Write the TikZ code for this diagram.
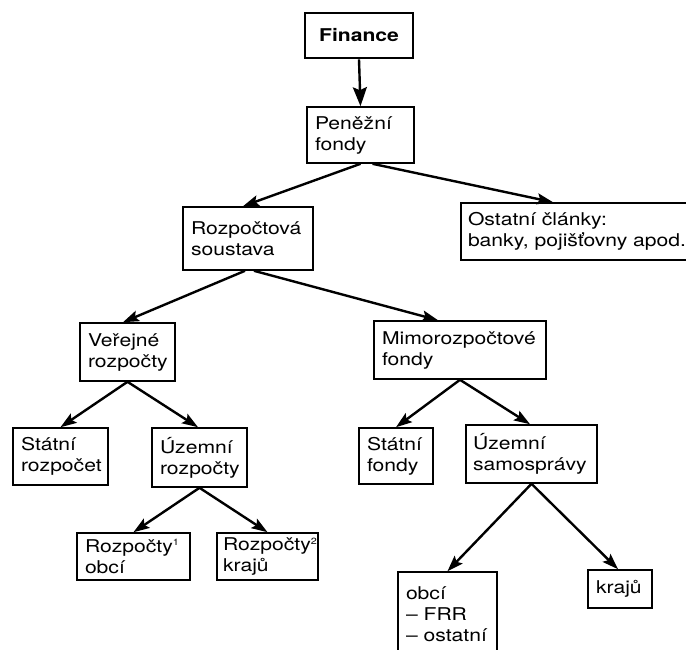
\documentclass[tikz,border=0pt]{standalone}
\usepackage{fontspec}
\setmainfont{TeX Gyre Heros}[FakeStretch=1.2]
\usetikzlibrary{arrows.meta}
% small raised footnote digit
\newcommand{\fnmark}[1]{\raisebox{6.5pt}{\fontsize{9}{9}\selectfont #1}}
\begin{document}
\begin{tikzpicture}[x=1pt,y=-1pt,
  box/.style={draw, line width=1.6pt, align=left, inner xsep=8pt, inner ysep=0pt,
    font=\fontsize{17.6}{21}\selectfont},
  topbox/.style={box, line width=2.8pt, align=center, font=\fontsize{17.6}{21}\selectfont\bfseries},
  link/.style={line width=2.4pt, -{Stealth[length=16pt,width=11pt,inset=3pt]}},
  biglink/.style={link, -{Stealth[length=19pt,width=14pt,inset=3pt]}}]
\useasboundingbox (0,0) rectangle (686,650);

% level 0 and 1
\node[topbox, minimum height=45pt, text width=92pt] (fin) at (359,35.5) {Finance};
\node[box, minimum height=56pt, text width=91pt] (pen) at (360.5,135) {Peněžní\\fondy};

% level 2
\node[box, minimum height=63pt, text width=114pt] (roz) at (248,238.5) {Rozpočtová\\soustava};
\node[box, minimum height=57pt, text width=228pt, inner xsep=7pt] (ost) at (582,231.5) {Ostatní články:\\banky, pojišťovny apod.};

% level 3
\node[box, minimum height=58pt, text width=79pt] (ver) at (127.5,352) {Veřejné\\rozpočty};
\node[box, minimum height=58pt, text width=156pt] (mim) at (460,350) {Mimorozpočtové\\fondy};

% level 4
\node[box, minimum height=57pt, text width=79pt] (sr) at (60.5,456.5) {Státní\\rozpočet};
\node[box, minimum height=59pt, text width=79pt] (ur) at (199.5,457.5) {Územní\\rozpočty};
\node[box, minimum height=56pt, text width=58pt] (sf) at (396,456) {Státní\\fondy};
\node[box, minimum height=58pt, text width=117pt, inner xsep=7pt] (us) at (531.5,454) {Územní\\samosprávy};

% level 5
\node[box, minimum height=47pt, text width=97pt] (ro) at (133.5,556.5) {Rozpočty\fnmark{1}\\obcí};
\node[box, minimum height=47pt, text width=89pt, inner xsep=6pt] (rk) at (267.5,556.5) {Rozpočty\fnmark{2}\\krajů};
\node[box, minimum height=85pt, text width=83pt] (obc) at (447.5,614.5) {obcí\\– FRR\\– ostatní};
\node[box, minimum height=38pt, text width=48pt] (kr) at (620,589) {krajů};

% connectors
\draw[biglink] (fin.south) -- (pen.north);
\draw[link] (pen.south) -- ([xshift=-5pt]roz.north);
\draw[link] ([xshift=12pt]pen.south) -- ([xshift=-29pt]ost.north);
\draw[link] ([xshift=-3pt]roz.south) -- ([xshift=-4.5pt]ver.north);
\draw[link] ([xshift=6pt]roz.south) -- ([xshift=-22pt]mim.north);
\draw[link] (ver.south) -- (sr.north);
\draw[link] (ver.south) -- ([xshift=-1.5pt]ur.north);
\draw[link] (mim.south) -- (sf.north);
\draw[link] (mim.south) -- ([xshift=-1.5pt]us.north);
\draw[link] (ur.south) -- (ro.north);
\draw[link] (ur.south) -- (rk.north);
\draw[link] (us.south) -- (obc.north);
\draw[link] (us.south) -- ([xshift=-2pt]kr.north);
\end{tikzpicture}
\end{document}
